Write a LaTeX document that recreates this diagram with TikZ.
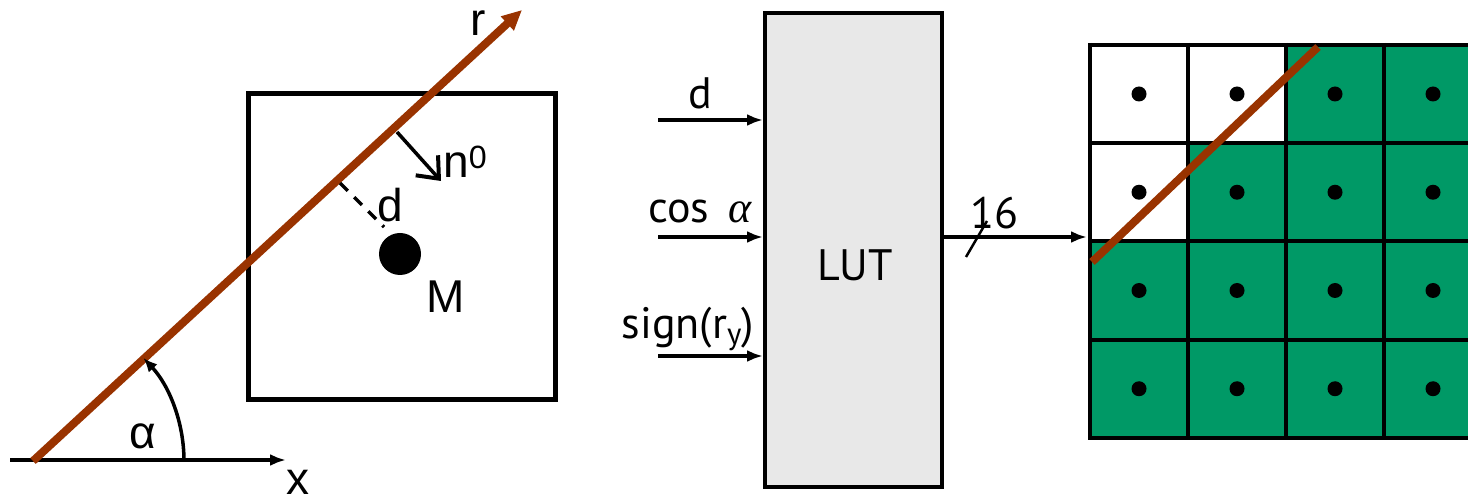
\documentclass[tikz,border=0pt]{standalone}
\usepackage{fontspec}
\setmainfont{Liberation Sans}
\newfontfamily\lutfont{PT Sans}
\newfontfamily\grkfont{Liberation Serif}
\usetikzlibrary{arrows.meta}
\definecolor{rbrown}{HTML}{993300}
\definecolor{pgreen}{HTML}{009966}
\definecolor{lutgray}{HTML}{E8E8E8}
\begin{document}
\begin{tikzpicture}[x=1pt,y=-1pt,
  lbl/.style={font=\fontsize{46}{50}\selectfont, inner sep=0pt},
  mlbl/.style={font=\lutfont\fontsize{44}{48}\selectfont, inner sep=0pt},
  arr/.style={line width=3.5pt, -{Latex[length=16pt,width=12pt]}},
  rline/.style={line width=8pt, rbrown},
  gridline/.style={line width=4pt}]
\useasboundingbox (0,0) rectangle (1468,502);
\clip (0,0) rectangle (1468,502);

% ---------- left panel ----------
\coordinate (o) at (33,461);
\coordinate (xstart) at (10,460);
\coordinate (xend) at (286,460);
\coordinate (rtip) at (522,10);
\draw[arr] (xstart) -- (xend);
\node[lbl] (xl) at (298,482) {x};
\node[draw, line width=5pt, minimum width=307pt, minimum height=306pt, inner sep=0pt] (box) at (401.5,247) {};
\draw[rline, -{Triangle[length=20pt,width=18pt]}] (o) -- (rtip);
\node[lbl] (rl) at (478,23) {r};
\coordinate (arcstart) at (184,461);
\draw[line width=3.5pt, -{Latex[length=14pt,width=12pt]}] (arcstart) arc[start angle=0, end angle=-43, radius=151];
\node[lbl] (al) at (143,436) {α};
\coordinate (nstart) at (397,132);
\coordinate (nend) at (441,181);
\draw[line width=3.5pt, -{Straight Barb[length=18pt,width=30pt,line width=4pt]}] (nstart) -- (nend);
\node[lbl, anchor=west] (nl) at (443,162) {n\textsuperscript{0}};
\coordinate (dstart) at (340,183);
\coordinate (dend) at (384,227);
\draw[line width=3.5pt, dash pattern=on 11pt off 9pt] (dstart) -- (dend);
\node[lbl] (dl) at (390,205) {d};
\fill (400,254) circle[radius=21pt];
\node[lbl] (ml) at (446,297) {M};

% ---------- LUT ----------
\node[draw, fill=lutgray, line width=4pt, minimum width=177pt, minimum height=474pt, inner sep=0pt] (lut) at (853.5,250) {};
\node[mlbl] (lutl) at (855,265) {LUT};
\coordinate (din) at (658,120);
\coordinate (cin) at (658,237);
\coordinate (sin) at (658,356);
\draw[arr] (din) -- (din -| lut.west);
\draw[arr] (cin) -- (cin -| lut.west);
\draw[arr] (sin) -- (sin -| lut.west);
\node[mlbl] (dlab) at (700,93) {d};
\node[mlbl] (clab) at (700,212) {cos\, {\grkfont\itshape α}};
\node[mlbl] (slab) at (688,329) {sign(r\textsubscript{y})};
\coordinate (outend) at (1087,237);
\draw[arr] (cin -| lut.east) -- (outend);
\coordinate (s1) at (966,257);
\coordinate (s2) at (987,221);
\draw[line width=2.5pt] (s1) -- (s2);
\node[mlbl] (bits) at (994,213) {16};

% ---------- grid ----------
\foreach \c in {0,...,3} {
  \foreach \r in {0,...,3} {
    \pgfmathtruncatemacro{\w}{(\r==0 && \c<2) || (\r==1 && \c==0) ? 1 : 0}
    \ifnum\w=0
      \fill[pgreen] (1090+98*\c,45+98.25*\r) rectangle ++(98,98.25);
    \fi
    \fill (1139+98*\c,94+98.25*\r) circle[radius=7.5pt];
  }
}
\foreach \c in {0,...,4} \draw[gridline] (1090+98*\c,43) -- (1090+98*\c,440);
\foreach \r in {0,...,4} \draw[gridline] (1088,45+98.25*\r) -- (1490,45+98.25*\r);
\coordinate (g1) at (1092,262);
\coordinate (g2) at (1318,47);
\draw[rline] (g1) -- (g2);
\end{tikzpicture}
\end{document}
